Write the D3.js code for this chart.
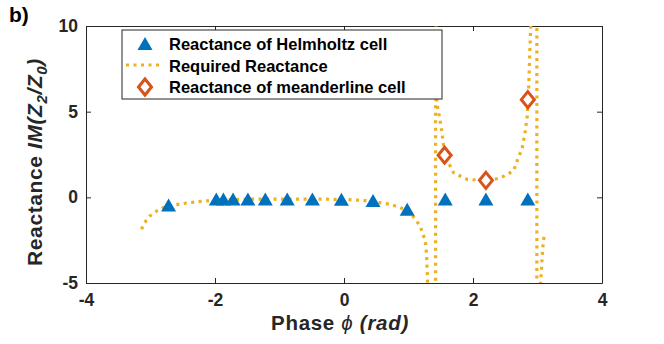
<!DOCTYPE html>
<html lang="en">
<head>
    <meta charset="UTF-8">
    <title>Reactance vs phase</title>
    <script src="https://d3js.org/d3.v7.min.js"></script>
    <style>
        body { margin: 0; background: #fff; font-family: "Liberation Sans", Arial, sans-serif; }
        .tick text { font-weight: bold; font-size: 17.5px; fill: #262626; }
        .tick line, .domain { stroke: #262626; }
    </style>
</head>
<body>
    <div id="container"></div>
    <script>
        // data
        const helmPhase = [-2.72, -1.98, -1.87, -1.72, -1.49, -1.22, -0.88, -0.49, -0.04, 0.45, 0.98, 1.57, 2.20, 2.85];
        const helmReact = [-0.47, -0.12, -0.12, -0.12, -0.12, -0.12, -0.12, -0.12, -0.14, -0.22, -0.72, -0.12, -0.12, -0.12];

        const meanPhase = [1.56, 2.20, 2.85];
        const meanReact = [2.46, 0.99, 5.70];

        // required reactance (values past the axis limits give the jumps at the poles)
        const reqPhase = [-3.14, -3.09, -3.01, -2.90, -2.80, -2.69, -2.57, -2.44, -2.18, -1.90, -1.50, -1.00, -0.50, 0.00, 0.30, 0.45, 0.72, 0.87, 0.98, 1.05, 1.18, 1.26, 1.28, 1.30,
                          1.42, 1.42, 1.43, 1.44, 1.48, 1.52, 1.56, 1.70, 1.91, 2.20, 2.42, 2.63, 2.71, 2.76, 2.81, 2.84, 2.86, 2.88, 2.90,
                          2.99, 2.99, 3.02, 3.05, 3.07, 3.09, 3.11];
        const reqReact = [-1.86, -1.47, -1.09, -0.79, -0.60, -0.50, -0.41, -0.33, -0.22, -0.15, -0.11, -0.10, -0.10, -0.12, -0.18, -0.25, -0.41, -0.60, -0.75, -1.00, -1.67, -2.54, -3.30, -5.50,
                          -30, 30, 8.0, 5.5, 4.7, 3.76, 2.46, 1.43, 1.05, 0.97, 1.12, 1.55, 2.40, 2.80, 3.85, 4.73, 6.00, 8.40, 10.5,
                          30, -30, -6.0, -4.9, -3.65, -2.54, -2.15];

        const xTicks = [-4, -2, 0, 2, 4];
        const yTicks = [-5, 0, 5, 10];

        const W = 664, H = 344;
        const m = {left: 86, right: 62, top: 26, bottom: 61};
        const iw = W - m.left - m.right, ih = H - m.top - m.bottom;

        const svg = d3.select('#container').append('svg')
            .attr('width', W).attr('height', H);

        const x = d3.scaleLinear().domain([-4, 4]).range([m.left, m.left + iw]);
        const y = d3.scaleLinear().domain([-5, 10]).range([m.top + ih, m.top]);

        svg.append('clipPath').attr('id', 'plotclip')
            .append('rect').attr('x', m.left).attr('y', m.top).attr('width', iw).attr('height', ih);

        // axes, ticks pointing inward on all four sides
        svg.append('g').attr('transform', `translate(0,${m.top + ih})`)
            .call(d3.axisBottom(x).tickValues(xTicks).tickFormat(d => String(d))
                .tickSizeInner(-5).tickSizeOuter(0).tickPadding(11));
        svg.append('g').attr('transform', `translate(${m.left},0)`)
            .call(d3.axisLeft(y).tickValues(yTicks).tickFormat(d => String(d))
                .tickSizeInner(-5).tickSizeOuter(0).tickPadding(8));
        svg.append('g').attr('transform', `translate(0,${m.top})`)
            .call(d3.axisTop(x).tickValues(xTicks).tickSizeInner(-5).tickSizeOuter(0).tickFormat(''));
        svg.append('g').attr('transform', `translate(${m.left + iw},0)`)
            .call(d3.axisRight(y).tickValues(yTicks).tickSizeInner(-5).tickSizeOuter(0).tickFormat(''));
        svg.selectAll('.domain').attr('stroke-width', 1);

        const plot = svg.append('g').attr('clip-path', 'url(#plotclip)');

        const req = reqPhase.map((p, i) => [p, reqReact[i]]);
        plot.append('path')
            .datum(req)
            .attr('fill', 'none')
            .attr('stroke', '#EDB120')
            .attr('stroke-width', 3.2)
            .attr('stroke-dasharray', '3,4.5')
            .attr('d', d3.line().x(d => x(d[0])).y(d => y(d[1])));

        const triPath = 'M0,-7L7.5,6L-7.5,6Z';
        const diaPath = 'M0,-8L6.5,0L0,8L-6.5,0Z';

        const helm = helmPhase.map((p, i) => [p, helmReact[i]]);
        plot.selectAll('.helm').data(helm).enter().append('path')
            .attr('class', 'helm')
            .attr('d', triPath)
            .attr('transform', d => `translate(${x(d[0])},${y(d[1])})`)
            .attr('fill', '#0072BD');

        const mean = meanPhase.map((p, i) => [p, meanReact[i]]);
        plot.selectAll('.mean').data(mean).enter().append('path')
            .attr('class', 'mean')
            .attr('d', diaPath)
            .attr('transform', d => `translate(${x(d[0])},${y(d[1])})`)
            .attr('fill', '#fff')
            .attr('stroke', '#D95319')
            .attr('stroke-width', 3);

        // legend
        const lg = svg.append('g').attr('transform', 'translate(122,30)');
        lg.append('rect').attr('width', 320).attr('height', 69)
            .attr('fill', '#fff').attr('stroke', '#262626').attr('stroke-width', 1);
        const legendLabels = ['Reactance of Helmholtz cell', 'Required Reactance', 'Reactance of meanderline cell'];
        lg.append('path').attr('d', triPath).attr('transform', 'translate(23,14)').attr('fill', '#0072BD');
        lg.append('line').attr('x1', 4).attr('x2', 41).attr('y1', 35).attr('y2', 35)
            .attr('stroke', '#EDB120').attr('stroke-width', 3.2).attr('stroke-dasharray', '3,4.5');
        lg.append('path').attr('d', diaPath).attr('transform', 'translate(23,57)')
            .attr('fill', '#fff').attr('stroke', '#D95319').attr('stroke-width', 3);
        lg.selectAll('.lt').data(legendLabels).enter().append('text')
            .attr('x', 47).attr('y', (d, i) => 20 + i * 21.7)
            .attr('font-size', '16.5px').attr('font-weight', 'bold').attr('fill', '#000')
            .text(d => d);

        // axis labels
        const xl = svg.append('text').attr('x', m.left + iw / 2 - 4).attr('y', 330)
            .attr('text-anchor', 'middle').attr('font-size', '20.5px').attr('font-weight', 'bold')
            .attr('letter-spacing', '0.7px').attr('fill', '#262626');
        xl.append('tspan').text('Phase ');
        xl.append('tspan').attr('font-style', 'italic').attr('font-weight', 'normal').text('\u03d5');
        xl.append('tspan').attr('font-style', 'italic').text(' (rad)');

        const yl = svg.append('text').attr('transform', 'translate(42,162) rotate(-90)')
            .attr('text-anchor', 'middle').attr('font-size', '21px').attr('font-weight', 'bold')
            .attr('letter-spacing', '0.6px').attr('fill', '#262626');
        yl.append('tspan').text('Reactance ');
        yl.append('tspan').attr('font-style', 'italic').text('IM(Z');
        yl.append('tspan').attr('font-style', 'italic').attr('font-size', '15px').attr('dy', 5).text('2');
        yl.append('tspan').attr('font-style', 'italic').attr('dy', -5).text('/Z');
        yl.append('tspan').attr('font-style', 'italic').attr('font-size', '15px').attr('dy', 5).text('0');
        yl.append('tspan').attr('font-style', 'italic').attr('dy', -5).text(')');

        svg.append('text').attr('x', 9).attr('y', 22)
            .attr('font-size', '21px').attr('font-weight', 'bold').attr('fill', '#000').text('b)');
    </script>
</body>
</html>
